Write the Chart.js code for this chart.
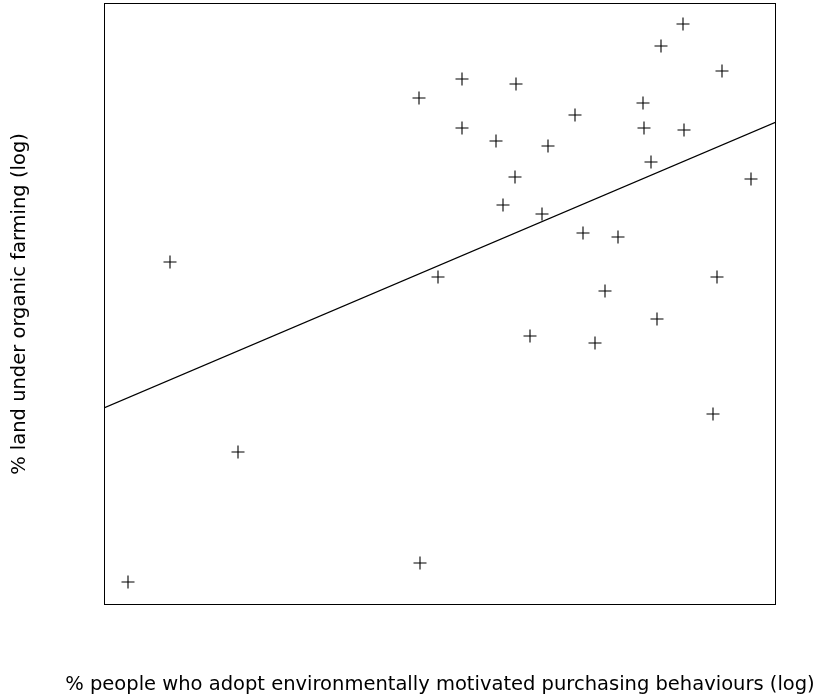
<!DOCTYPE html>
<html>
<head>
<meta charset="utf-8">
<script src="https://cdn.jsdelivr.net/npm/chart.js@4/dist/chart.umd.min.js"></script>
<style>
  html, body { margin: 0; padding: 0; background: #ffffff; }
  #c { display: block; }
</style>
</head>
<body>
<canvas id="c" width="814" height="699"></canvas>
<script>
// Values (arbitrary log units; axes carry no ticks)
const xValues = [24, 66, 134, 316, 315, 358, 358, 412, 392, 444, 411, 399, 438, 334, 426, 471, 479, 514, 501, 491, 539, 540, 580, 547, 557, 579, 618, 647, 613, 553, 609];
const yValues = [23, 343, 153, 42, 507, 526, 477, 521, 464, 459, 428, 400, 391, 328, 269, 490, 372, 368, 314, 262, 502, 477, 475, 443, 559, 581, 534, 426, 328, 286, 191];
const fitX = [0, 672];
const fitY = [197, 483];
const xRange = [0, 672];
const yRange = [0, 602];
const xTitle = '% people who adopt environmentally motivated purchasing behaviours (log)';
const yTitle = '% land under organic farming (log)';

const points = xValues.map((x, i) => ({ x: x, y: yValues[i] }));
const fitLine = fitX.map((x, i) => ({ x: x, y: fitY[i] }));

const titleFont = '19.5px "DejaVu Sans"';

const framePlugin = {
  id: 'frame',
  afterDatasetsDraw(chart) {
    const { ctx, chartArea: a } = chart;
    ctx.save();
    ctx.strokeStyle = '#000000';
    ctx.lineWidth = 1;
    ctx.strokeRect(a.left + 0.5, a.top + 0.5, a.right - a.left - 1, a.bottom - a.top - 1);
    // axis titles (kept unsqueezed, centred on the plot area)
    ctx.fillStyle = '#000000';
    ctx.font = titleFont;
    ctx.textAlign = 'center';
    ctx.textBaseline = 'middle';
    const cx = (a.left + a.right) / 2;
    const cy = (a.top + a.bottom) / 2;
    ctx.fillText(xTitle, cx, 685);
    ctx.translate(20, cy);
    ctx.rotate(-Math.PI / 2);
    ctx.fillText(yTitle, 0, 0);
    ctx.restore();
  }
};

new Chart(document.getElementById('c'), {
  type: 'scatter',
  data: {
    datasets: [
      {
        label: 'countries',
        data: points,
        pointStyle: 'cross',
        pointRadius: 6.5,
        pointBorderWidth: 1.1,
        pointBorderColor: '#000000',
        backgroundColor: '#000000',
        showLine: false
      },
      {
        label: 'fit',
        data: fitLine,
        showLine: true,
        borderColor: '#000000',
        borderWidth: 1.2,
        pointRadius: 0,
        fill: false
      }
    ]
  },
  options: {
    responsive: false,
    animation: false,
    events: [],
    layout: { autoPadding: false, padding: { left: 0, right: 38, top: 3, bottom: 0 } },
    plugins: {
      legend: { display: false },
      tooltip: { enabled: false }
    },
    scales: {
      x: {
        type: 'linear',
        min: xRange[0],
        max: xRange[1],
        ticks: { display: false },
        grid: { display: false, drawTicks: false },
        border: { display: false },
        afterFit(scale) { scale.height = 94; }
      },
      y: {
        type: 'linear',
        min: yRange[0],
        max: yRange[1],
        ticks: { display: false },
        grid: { display: false, drawTicks: false },
        border: { display: false },
        afterFit(scale) { scale.width = 104; }
      }
    }
  },
  plugins: [framePlugin]
});
</script>
</body>
</html>
